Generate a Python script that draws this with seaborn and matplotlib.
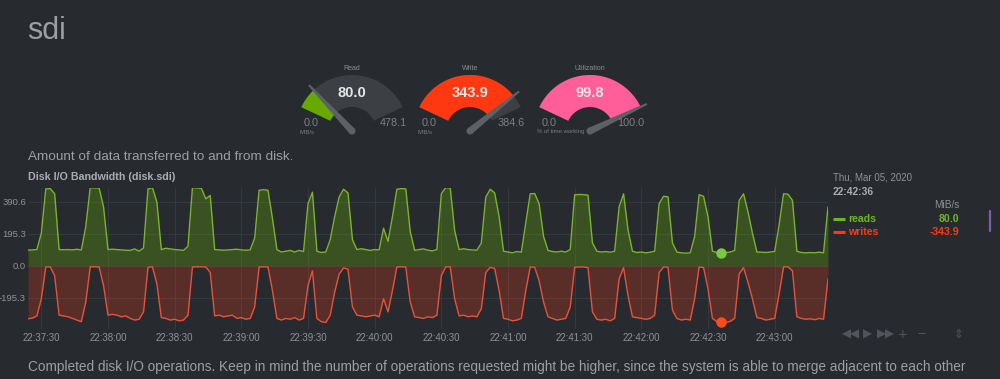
import numpy as np
import pandas as pd
import seaborn as sns
import matplotlib.pyplot as plt
import matplotlib.dates as mdates
from matplotlib.patches import Polygon, Circle

# disk.sdi bandwidth, one sample every 2 s starting 22:37:24 (MiB/s)
reads = [97, 98, 100, 200, 470, 472, 440, 100, 99, 100,
         98, 102, 97, 240, 478, 476, 476, 360, 100, 102,
         100, 98, 96, 95, 104, 90, 110, 470, 478, 390,
         100, 108, 104, 100, 98, 95, 120, 478, 476, 474,
         410, 430, 100, 98, 96, 98, 100, 102, 98, 96,
         98, 170, 462, 465, 462, 290, 100, 85, 90, 95,
         85, 95, 88, 380, 450, 90, 82, 85, 160, 300,
         420, 468, 445, 160, 100, 105, 100, 95, 100, 98,
         230, 150, 300, 468, 472, 470, 210, 95, 100, 104,
         96, 92, 100, 440, 478, 476, 215, 100, 105, 100,
         98, 96, 140, 420, 468, 445, 300, 90, 85, 80,
         88, 84, 260, 440, 442, 380, 180, 95, 88, 85,
         90, 85, 100, 434, 436, 435, 432, 140, 90, 85,
         88, 84, 90, 360, 440, 220, 90, 82, 85, 80,
         84, 90, 380, 425, 422, 140, 85, 80, 78, 80,
         180, 435, 425, 300, 90, 82, 80, 82, 85, 95,
         400, 440, 330, 200, 85, 84, 82, 85, 88, 250,
         440, 438, 400, 90, 82, 80, 82, 80, 84, 80,
         360]
writes = [-322, -318, -305, -200, -6, -5, -60, -300, -305, -310,
          -320, -330, -340, -220, -5, -5, -6, -120, -300, -295,
          -300, -310, -305, -320, -330, -325, -280, -8, -5, -110,
          -315, -320, -330, -325, -335, -330, -300, -6, -5, -5,
          -6, -40, -305, -300, -310, -305, -300, -320, -315, -325,
          -320, -250, -6, -5, -6, -150, -320, -330, -320, -325,
          -315, -330, -320, -120, -30, -320, -340, -345, -300, -160,
          -50, -12, -20, -250, -300, -305, -310, -305, -300, -310,
          -200, -280, -150, -6, -5, -6, -220, -310, -315, -320,
          -310, -315, -300, -60, -5, -5, -200, -305, -300, -310,
          -305, -310, -260, -40, -8, -15, -150, -320, -325, -335,
          -330, -320, -150, -6, -8, -90, -220, -310, -320, -330,
          -325, -320, -250, -8, -6, -6, -10, -280, -325, -330,
          -325, -335, -320, -80, -10, -180, -310, -315, -320, -325,
          -320, -300, -40, -6, -8, -270, -320, -330, -325, -330,
          -200, -6, -10, -140, -320, -340, -343.9, -345, -338, -320,
          -50, -10, -100, -200, -315, -320, -330, -325, -320, -170,
          -6, -5, -30, -310, -320, -325, -322, -328, -320, -325,
          -80]
start = '2020-03-05 22:37:24'
hover_idx = 156
yticks = [-195.3, 0.0, 195.3, 390.6]
ylim = (-384.6, 478.1)

gauge_titles = ['Read', 'Write', 'Utilization']
gauge_values = [80.0, 343.9, 99.8]
gauge_max = [478.1, 384.6, 100.0]
gauge_units = ['MiB/s', 'MiB/s', '% of time working']
gauge_colors = ['#66aa00', '#fe3912', '#ff5e99']

bg = '#272b30'
green = '#66aa00'
red = '#fe3912'
txt = '#8e9196'

sns.set_theme(style='dark')
plt.rcParams['font.family'] = ['Liberation Sans', 'DejaVu Sans']

df = pd.DataFrame({'time': pd.date_range(start, periods=len(reads), freq='2s'),
                   'reads': reads, 'writes': writes})

fig = plt.figure(figsize=(10, 3.79), dpi=100, facecolor=bg)
ax = fig.add_axes([0.028, 1 - 329 / 379, 0.8, (329 - 187.6) / 379])
ax.set_facecolor(bg)

ax.fill_between(df['time'], 0, df['reads'], color=green, alpha=0.3, lw=0)
ax.fill_between(df['time'], df['writes'], 0, color=red, alpha=0.24, lw=0)
sns.lineplot(data=df, x='time', y='reads', color='#7cb232', lw=1.0, ax=ax)
sns.lineplot(data=df, x='time', y='writes', color='#e5533c', lw=1.0, ax=ax)

h = df.iloc[hover_idx]
ax.scatter([h['time']], [h['reads']], s=42, color='#7ac943', zorder=5)
ax.scatter([h['time']], [h['writes']], s=42, color='#ff4a1c', zorder=5)

ax.set_xlim(df['time'].iloc[0], df['time'].iloc[-1])
ax.set_ylim(*ylim)
ax.set_yticks(yticks)
ax.set_yticklabels([f'{v:.1f}' for v in yticks])
ax.xaxis.set_major_locator(mdates.SecondLocator(bysecond=[0, 30]))
ax.xaxis.set_major_formatter(mdates.DateFormatter('%H:%M:%S'))
ax.set_xlabel('')
ax.set_ylabel('')
ax.grid(True, color='#343940', lw=0.8)
ax.tick_params(axis='x', length=0, pad=3, labelsize=7, labelcolor=txt)
ax.tick_params(axis='y', length=0, pad=1.5, labelsize=6.8, labelcolor=txt)
for s in ax.spines.values():
    s.set_visible(False)

# overlay in pixel coordinates for the dashboard decorations
ov = fig.add_axes([0, 0, 1, 1])
ov.set_xlim(0, 1000)
ov.set_ylim(379, 0)
ov.axis('off')


def band(cx, cy, r_in, r_out, a0, a1, n=60):
    th = np.radians(np.linspace(a0, a1, n))
    outer = np.c_[cx + r_out * np.cos(th), cy - r_out * np.sin(th)]
    inner = np.c_[cx + r_in * np.cos(th[::-1]), cy - r_in * np.sin(th[::-1])]
    return np.vstack([outer, inner])


a_start, a_end = 154.8, 25.2
cy = 131
for cx, title, val, vmax, unit, col in zip([352, 470, 590], gauge_titles, gauge_values,
                                           gauge_max, gauge_units, gauge_colors):
    ang = a_start - (val / vmax) * (a_start - a_end)
    ov.add_patch(Polygon(band(cx, cy, 24, 56, a_start, a_end), color='#3c3f44', lw=0))
    ov.add_patch(Polygon(band(cx, cy, 24, 56, a_start, ang), color=col, lw=0))
    t = np.radians(ang)
    d = np.array([np.cos(t), -np.sin(t)])
    p = np.array([d[1], -d[0]])
    base = np.array([cx, cy])
    tip = base + 63 * d
    ov.add_patch(Polygon([base + 3.5 * p, tip + 1 * p, tip - 1 * p, base - 3.5 * p],
                         color='#5d6065', lw=0))
    ov.add_patch(Circle((cx, cy), 3.5, color='#5d6065', lw=0))
    ov.text(cx, 69, title, ha='center', va='center', fontsize=5, color='#8a8c90')
    ov.text(cx, 93, f'{val:.1f}', ha='center', va='center', fontsize=10.5,
            fontweight='bold', color='#e6e6e6')
    ov.text(cx - 41, 123, '0.0', ha='center', va='center', fontsize=7.8, color='#7c7f84')
    ov.text(cx + 41, 123, f'{vmax:.1f}', ha='center', va='center', fontsize=7.8, color='#7c7f84')
    ov.text(cx - 53, 132, unit, ha='left', va='center', fontsize=4.3, color='#7c7f84')

ov.text(27, 31, 'sdi', ha='left', va='center', fontsize=22, color='#9b9ea2')
ov.text(28, 157, 'Amount of data transferred to and from disk.', ha='left', va='center',
        fontsize=9.7, color='#9b9ea2')
ov.text(28, 177, 'Disk I/O Bandwidth (disk.sdi)', ha='left', va='center', fontsize=7.7,
        fontweight='bold', color='#a9acb0')
ov.text(28, 367, 'Completed disk I/O operations. Keep in mind the number of operations requested '
        'might be higher, since the system is able to merge adjacent to each other',
        ha='left', va='center', fontsize=9.8, color='#9b9ea2')

# legend on the right
ov.text(833, 177, 'Thu, Mar 05, 2020', ha='left', va='center', fontsize=7, color=txt)
ov.text(833, 192, h['time'].strftime('%H:%M:%S'), ha='left', va='center', fontsize=7.4,
        fontweight='bold', color='#a9acb0')
ov.text(959, 205, 'MiB/s', ha='right', va='center', fontsize=7.2, color=txt)
for y, name, col, v in [(219, 'reads', '#6fb51f', h['reads']), (232, 'writes', red, h['writes'])]:
    ov.plot([833, 845], [y, y], color=col, lw=2.2, solid_capstyle='butt')
    ov.text(848, y, name, ha='left', va='center', fontsize=7.6, fontweight='bold', color=col)
    ov.text(959, y, f'{v:.1f}', ha='right', va='center', fontsize=7.6, fontweight='bold', color=col)
ov.plot([990, 990], [211, 231], color='#7d5fa5', lw=1.6)

# chart controls
for x, s in [(851, '◀◀'), (867, '▶'), (886, '▶▶'), (903, '+'), (922, '−'), (959, '⇕')]:
    ov.text(x, 334, s, ha='center', va='center', fontsize=8.5, color='#51555b',
            family=['DejaVu Sans'])

fig.savefig('out.png', dpi=100, facecolor=bg)
